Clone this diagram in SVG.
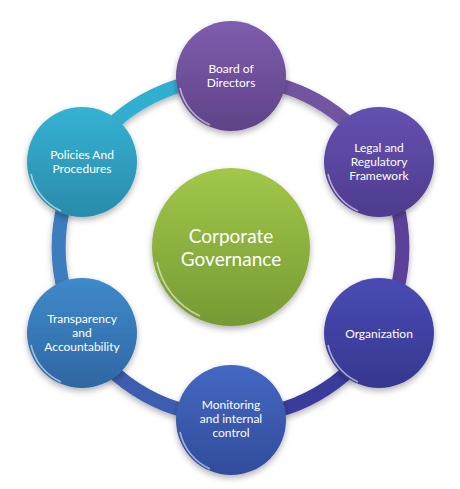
<svg xmlns="http://www.w3.org/2000/svg" width="460" height="489" viewBox="0 0 460 489">
<style>
.lbl{font-family:"Lato","Liberation Sans",sans-serif;font-size:12px;fill:#ffffff;text-anchor:middle}
.big{font-family:"Lato","Liberation Sans",sans-serif;font-size:19px;fill:#ffffff;text-anchor:middle}
.seg{fill:none;stroke-width:14;stroke-linecap:butt}
.rim{fill:none;stroke:#ffffff;stroke-width:1.6;stroke-opacity:0.55}
</style>
<defs>
<filter id="sh" x="-30%" y="-30%" width="160%" height="160%">
<feDropShadow dx="0" dy="3" stdDeviation="3" flood-color="#000" flood-opacity="0.3"/>
</filter>
<linearGradient id="gBoard" x1="0" y1="0" x2="0" y2="1"><stop offset="0" stop-color="#7E5DAE"/><stop offset="1" stop-color="#5E4387"/></linearGradient>
<linearGradient id="gLegal" x1="0" y1="0" x2="0" y2="1"><stop offset="0" stop-color="#6550B0"/><stop offset="1" stop-color="#4E3C8E"/></linearGradient>
<linearGradient id="gOrg" x1="0" y1="0" x2="0" y2="1"><stop offset="0" stop-color="#4A4BB4"/><stop offset="1" stop-color="#363790"/></linearGradient>
<linearGradient id="gMon" x1="0" y1="0" x2="0" y2="1"><stop offset="0" stop-color="#4468C2"/><stop offset="1" stop-color="#314C9C"/></linearGradient>
<linearGradient id="gTr" x1="0" y1="0" x2="0" y2="1"><stop offset="0" stop-color="#3F8ACB"/><stop offset="1" stop-color="#2F67A2"/></linearGradient>
<linearGradient id="gPol" x1="0" y1="0" x2="0" y2="1"><stop offset="0" stop-color="#35B2D4"/><stop offset="1" stop-color="#2A8BAA"/></linearGradient>
<linearGradient id="gCen" x1="0" y1="0" x2="0" y2="1"><stop offset="0" stop-color="#A2C74A"/><stop offset="1" stop-color="#769A33"/></linearGradient>
</defs>

<g id="connectors" filter="url(#sh)">
<path class="seg" stroke="#33AFD0" d="M 82 162 A 168 168 0 0 1 231 79"/>
<path class="seg" stroke="#7254A0" d="M 231 79 A 168 168 0 0 1 379 162"/>
<path class="seg" stroke="#5A4399" d="M 379 162 A 168 168 0 0 1 379 333"/>
<path class="seg" stroke="#3A3A9C" d="M 379 333 A 168 168 0 0 1 231 416"/>
<path class="seg" stroke="#3C5DB0" d="M 231 416 A 168 168 0 0 1 82 333"/>
<path class="seg" stroke="#3A7DBE" d="M 82 333 A 168 168 0 0 1 82 162"/>
</g>

<g id="center">
<circle cx="231" cy="247" r="79" fill="url(#gCen)" filter="url(#sh)"/>
<path class="rim" d="M 157 262 A 76 76 0 0 0 200 316" stroke="#E8F5B0"/>
<text class="big" x="231" y="243">Corporate</text>
<text class="big" x="231" y="266">Governance</text>
</g>

<g id="board">
<circle cx="231" cy="76" r="55" fill="url(#gBoard)" filter="url(#sh)"/>
<path class="rim" d="M 180 88 A 53 53 0 0 0 210 125"/>
<text class="lbl" x="231" y="73">Board of</text>
<text class="lbl" x="231" y="87">Directors</text>
</g>

<g id="legal">
<circle cx="379" cy="162" r="55" fill="url(#gLegal)" filter="url(#sh)"/>
<path class="rim" d="M 328 174 A 53 53 0 0 0 358 211"/>
<text class="lbl" x="379" y="152">Legal and</text>
<text class="lbl" x="379" y="166">Regulatory</text>
<text class="lbl" x="379" y="180">Framework</text>
</g>

<g id="organization">
<circle cx="379" cy="333" r="55" fill="url(#gOrg)" filter="url(#sh)"/>
<path class="rim" d="M 328 345 A 53 53 0 0 0 358 382"/>
<text class="lbl" x="379" y="338">Organization</text>
</g>

<g id="monitoring">
<circle cx="231" cy="420" r="55" fill="url(#gMon)" filter="url(#sh)"/>
<path class="rim" d="M 180 432 A 53 53 0 0 0 210 469"/>
<text class="lbl" x="231" y="409">Monitoring</text>
<text class="lbl" x="231" y="423">and internal</text>
<text class="lbl" x="231" y="437">control</text>
</g>

<g id="transparency">
<circle cx="82" cy="333" r="55" fill="url(#gTr)" filter="url(#sh)"/>
<path class="rim" d="M 31 345 A 53 53 0 0 0 61 382"/>
<text class="lbl" x="82" y="323">Transparency</text>
<text class="lbl" x="82" y="337">and</text>
<text class="lbl" x="82" y="351">Accountability</text>
</g>

<g id="policies">
<circle cx="82" cy="162" r="55" fill="url(#gPol)" filter="url(#sh)"/>
<path class="rim" d="M 31 174 A 53 53 0 0 0 61 211"/>
<text class="lbl" x="82" y="159">Policies And</text>
<text class="lbl" x="82" y="173">Procedures</text>
</g>
</svg>
